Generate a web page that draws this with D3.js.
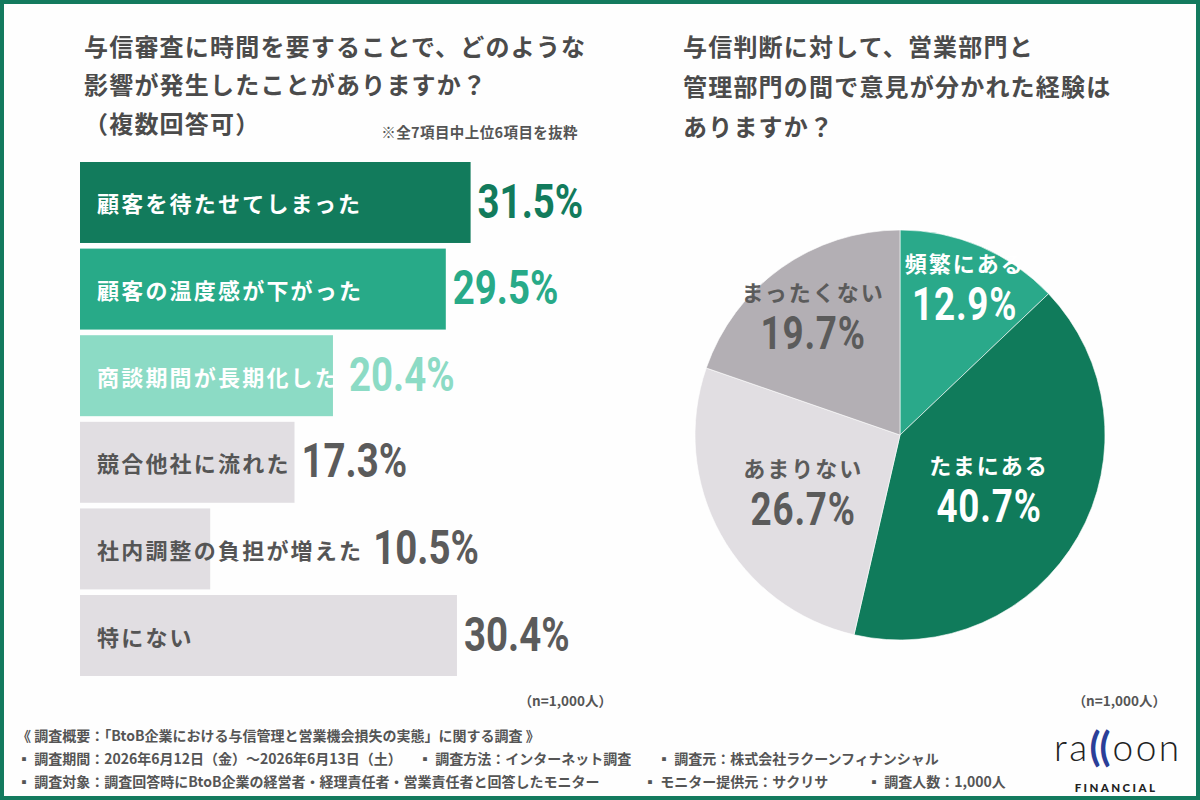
<!DOCTYPE html>
<html>
<head>
<meta charset="utf-8">
<script src="https://cdn.jsdelivr.net/npm/d3@7"></script>
<style>
  body { margin: 0; background: #fff; }
  svg { display: block; }
  text { font-family: "Noto Sans CJK JP", "Noto Sans", sans-serif; }
</style>
</head>
<body>
<div id="chart"></div>
<script>
// Data
const barCategories = ["顧客を待たせてしまった", "顧客の温度感が下がった", "商談期間が長期化した", "競合他社に流れた", "社内調整の負担が増えた", "特にない"];
const barValues = [31.5, 29.5, 20.4, 17.3, 10.5, 30.4];

const pieCategories = ["頻繁にある", "たまにある", "あまりない", "まったくない"];
const pieValues = [12.9, 40.7, 26.7, 19.7];

const leftTitle = ["与信審査に時間を要することで、どのような", "影響が発生したことがありますか？", "（複数回答可）"];
const rightTitle = ["与信判断に対して、営業部門と", "管理部門の間で意見が分かれた経験は", "ありますか？"];
const noteText = "※全7項目中上位6項目を抜粋";
const sampleText = "（n=1,000人）";
const footerLines = [
    ["《 調査概要：「BtoB企業における与信管理と営業機会損失の実態」に関する調査 》"],
    ["▪ 調査期間：2026年6月12日（金）～2026年6月13日（土）", "▪ 調査方法：インターネット調査", "▪ 調査元：株式会社ラクーンフィナンシャル"],
    ["▪ 調査対象：調査回答時にBtoB企業の経営者・経理責任者・営業責任者と回答したモニター", "▪ モニター提供元：サクリサ", "▪ 調査人数：1,000人"]
];

// styles
const barColors = ["#127b5c", "#28aa88", "#8cdbc5", "#e1dee2", "#e1dee2", "#e1dee2"];
const barLabelColors = ["#fff", "#fff", "#fff", "#555", "#555", "#555"];
const barValueColors = ["#127b5c", "#28aa88", "#8cdbc5", "#5b5b5b", "#5b5b5b", "#5b5b5b"];
const pieColors = ["#2aa98a", "#107b5b", "#e1dee2", "#b3afb4"];
const pieTextColors = ["#fff", "#fff", "#5b5b5b", "#5b5b5b"];
const pieLabelRadius = [0.8, 0.5, 0.54, 0.73];

const W = 1200, H = 800;
const svg = d3.select("#chart").append("svg")
    .attr("width", W)
    .attr("height", H);

svg.append("rect").attr("width", W).attr("height", H).attr("fill", "#fefefe");

// titles
function drawTitle(lines, x, y0, step) {
    svg.append("g").selectAll("text")
        .data(lines)
        .join("text")
        .attr("x", x)
        .attr("y", (d, i) => y0 + i * step)
        .attr("dominant-baseline", "central")
        .attr("fill", "#4b4b4b")
        .attr("font-size", 24)
        .attr("font-weight", 700)
        .attr("letter-spacing", 1.2)
        .text(d => d);
}
drawTitle(leftTitle, 84, 45, 38.5);
drawTitle(rightTitle, 683, 45, 40);

svg.append("text")
    .attr("x", 578).attr("y", 131)
    .attr("text-anchor", "end")
    .attr("dominant-baseline", "central")
    .attr("fill", "#555")
    .attr("font-size", 14.5)
    .attr("font-weight", 700)
    .attr("letter-spacing", 0.4)
    .text(noteText);

// bar chart
const x = d3.scaleLinear().domain([0, 40]).range([80, 576]);
const y = d3.scaleBand().domain(barCategories).range([162, 676]).paddingInner(0.065);

const bars = svg.append("g").selectAll("g")
    .data(barCategories)
    .join("g");

bars.append("rect")
    .attr("x", x(0))
    .attr("y", d => y(d))
    .attr("width", (d, i) => x(barValues[i]) - x(0))
    .attr("height", y.bandwidth())
    .attr("fill", (d, i) => barColors[i]);

bars.append("text")
    .attr("class", "barLabel")
    .attr("x", x(0) + 17)
    .attr("y", d => y(d) + y.bandwidth() / 2)
    .attr("dominant-baseline", "central")
    .attr("fill", (d, i) => barLabelColors[i])
    .attr("font-size", 22)
    .attr("font-weight", 700)
    .attr("letter-spacing", 2.2)
    .text(d => d);

bars.each(function (d, i) {
    let g = d3.select(this);
    let box = g.select(".barLabel").node().getBBox();
    let labelEnd = box.x + box.width;
    let vx = Math.max(x(barValues[i]) + 7, labelEnd + 10);
    g.append("text")
        .attr("transform", `translate(${vx}, ${y(d) + y.bandwidth() / 2 - 1}) scale(0.8, 1)`)
        .attr("dominant-baseline", "central")
        .attr("fill", barValueColors[i])
        .style("font-family", "Roboto, sans-serif")
        .attr("font-size", 48)
        .attr("font-weight", 700)
        .text(barValues[i].toFixed(1) + "%");
});

svg.append("text")
    .attr("x", 612).attr("y", 700)
    .attr("text-anchor", "end")
    .attr("dominant-baseline", "central")
    .attr("fill", "#555")
    .attr("font-size", 13.5)
    .attr("font-weight", 700)
    .text(sampleText);

// pie chart
const cx = 900, cy = 435, R = 205;
const pie = d3.pie().sort(null).value(d => d);
const arc = d3.arc().innerRadius(0).outerRadius(R);
const arcs = pie(pieValues);

const pieG = svg.append("g").attr("transform", `translate(${cx}, ${cy})`);
pieG.selectAll("path")
    .data(arcs)
    .join("path")
    .attr("d", arc)
    .attr("fill", (d, i) => pieColors[i])
    .attr("stroke", "#fff")
    .attr("stroke-width", 0.6);

const pieLabels = pieG.selectAll("g.pl")
    .data(arcs)
    .join("g")
    .attr("class", "pl")
    .attr("transform", (d, i) => {
        let r = R * pieLabelRadius[i];
        let c = d3.arc().innerRadius(r).outerRadius(r).centroid(d);
        return `translate(${c[0]}, ${c[1]})`;
    });

pieLabels.append("text")
    .attr("y", -22)
    .attr("text-anchor", "middle")
    .attr("dominant-baseline", "central")
    .attr("fill", (d, i) => pieTextColors[i])
    .attr("font-size", 22)
    .attr("font-weight", 700)
    .attr("letter-spacing", 2)
    .text((d, i) => pieCategories[i]);

pieLabels.append("text")
    .attr("transform", "translate(0, 20) scale(0.8, 1)")
    .attr("text-anchor", "middle")
    .attr("dominant-baseline", "central")
    .attr("fill", (d, i) => pieTextColors[i])
    .style("font-family", "Roboto, sans-serif")
    .attr("font-size", 46)
    .attr("font-weight", 700)
    .attr("letter-spacing", 1)
    .text(d => d.value.toFixed(1) + "%");

svg.append("text")
    .attr("x", 1166).attr("y", 700)
    .attr("text-anchor", "end")
    .attr("dominant-baseline", "central")
    .attr("fill", "#555")
    .attr("font-size", 13.5)
    .attr("font-weight", 700)
    .text(sampleText);

// footer
const footerX = [[17], [17, 418, 657], [17, 643, 867]];
footerLines.forEach((line, li) => {
    svg.append("g").selectAll("text")
        .data(line)
        .join("text")
        .attr("x", (d, i) => footerX[li][i])
        .attr("y", 735 + li * 23)
        .attr("dominant-baseline", "central")
        .attr("fill", "#555")
        .attr("font-size", 14)
        .attr("font-weight", 700)
        .text(d => d);
});

// logo
const logo = svg.append("text")
    .attr("x", 1054).attr("y", 761)
    .style("font-family", "Lato, sans-serif")
    .attr("font-size", 37)
    .attr("font-weight", 300)
    .attr("letter-spacing", 2.5)
    .attr("fill", "#222");
logo.append("tspan").text("ra");
logo.append("tspan").attr("fill", "#2b3f98").attr("font-weight", 700).attr("font-size", 40).attr("letter-spacing", -1).text("((");
logo.append("tspan").attr("dx", 3).text("oon");

svg.append("text")
    .attr("x", 1116).attr("y", 787)
    .attr("text-anchor", "middle")
    .attr("dominant-baseline", "central")
    .style("font-family", "Lato, sans-serif")
    .attr("font-size", 11.5)
    .attr("font-weight", 900)
    .attr("letter-spacing", 2.4)
    .attr("fill", "#222")
    .text("FINANCIAL");

// frame
svg.append("rect")
    .attr("x", 2).attr("y", 2)
    .attr("width", W - 4).attr("height", H - 4)
    .attr("fill", "none")
    .attr("stroke", "#137a5e")
    .attr("stroke-width", 4);
</script>
</body>
</html>
